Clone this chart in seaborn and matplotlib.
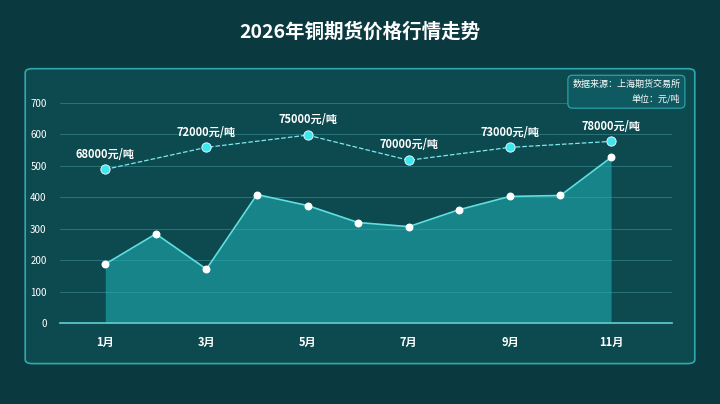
import matplotlib
matplotlib.use("Agg")
import matplotlib.pyplot as plt
import seaborn as sns
import pandas as pd
from matplotlib.patches import FancyBboxPatch

months = list(range(1, 12))
volume = [188, 284, 172, 409, 374, 320, 307, 361, 403, 406, 527]
price_months = [1, 3, 5, 7, 9, 11]
price_pos = [489, 559, 598, 518, 559, 578]
price_labels = ["68000元/吨", "72000元/吨", "75000元/吨", "70000元/吨", "73000元/吨", "78000元/吨"]
tick_months = [1, 3, 5, 7, 9, 11]
tick_labels = ["1月", "3月", "5月", "7月", "9月", "11月"]

sns.set_theme(style="dark")
plt.rcParams['font.family'] = ['Noto Sans CJK SC', 'DejaVu Sans']

df = pd.DataFrame({"m": months, "v": volume})
dfp = pd.DataFrame({"m": price_months, "p": price_pos})

fig = plt.figure(figsize=(7.2, 4.04), dpi=100)
fig.patch.set_facecolor("#0a3a40")
bg = fig.add_axes([0, 0, 1, 1], zorder=-5)
bg.set_axis_off()
bg.add_patch(FancyBboxPatch((0.035, 0.1), 0.93, 0.73, boxstyle="round,pad=0,rounding_size=0.01",
                            transform=bg.transAxes, facecolor="#0d4a50", edgecolor="#2fa9b0", lw=1.2))

ax = fig.add_axes([0.083, 0.2, 0.85, 0.545])
ax.set_facecolor("none")

ax.fill_between(df["m"], df["v"], color="#1fb5b8", alpha=0.55, lw=0)
sns.lineplot(data=df, x="m", y="v", ax=ax, color="#5fe0e0", lw=1.2)
ax.scatter(df["m"], df["v"], s=22, color="white", zorder=5)
sns.lineplot(data=dfp, x="m", y="p", ax=ax, color="#7fe8ec", lw=0.9, linestyle="--")
ax.scatter(dfp["m"], dfp["p"], s=45, color="#3fe6ee", edgecolor="white", lw=0.6, zorder=6)
for m, p, t in zip(price_months, price_pos, price_labels):
    ax.text(m, p + 28, t, ha="center", va="bottom", color="white", fontsize=8, fontweight="bold")

ax.set_xlim(0.1, 12.2)
ax.set_ylim(0, 700)
ax.set_yticks(range(0, 701, 100))
ax.set_xticks(tick_months)
ax.set_xticklabels(tick_labels, fontweight="bold")
ax.tick_params(colors="white", labelsize=7)
ax.tick_params(axis="x", labelsize=8)
ax.grid(axis="y", color="#2f7a80", lw=0.6)
ax.grid(axis="x", visible=False)
for s in ["top", "right", "left"]:
    ax.spines[s].set_visible(False)
ax.spines["bottom"].set_color("#5fc8cc")
ax.set_xlabel("")
ax.set_ylabel("")

fig.text(0.5, 0.92, "2026年铜期货价格行情走势", ha="center", va="center", color="white",
         fontsize=14, fontweight="bold")
fig.text(0.945, 0.773, "数据来源：上海期货交易所\n单位：元/吨", ha="right", va="center",
         color="white", fontsize=6.5, linespacing=1.7,
         bbox=dict(boxstyle="round,pad=0.5", facecolor="#0f5a60", edgecolor="#2fa9b0", lw=0.8))
fig.savefig("out.png", dpi=100, facecolor=fig.get_facecolor())
